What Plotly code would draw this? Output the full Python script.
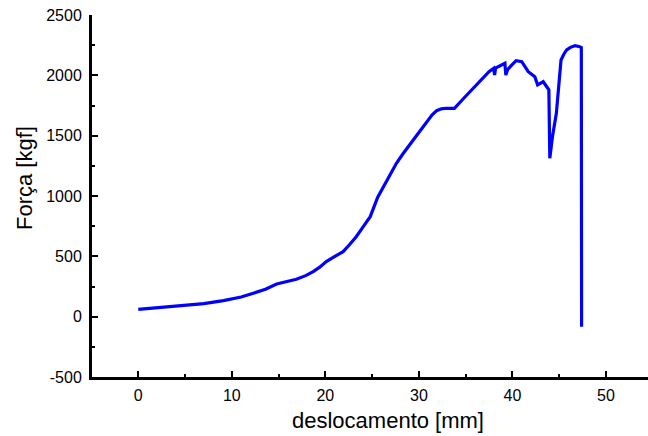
import plotly.graph_objects as go

deslocamento = [0.0, 2.0, 4.45, 7.0, 9.1, 11.0, 12.3, 13.6, 14.8, 15.9, 16.9, 17.9, 18.7,
                19.4, 20.1, 20.8, 21.5, 21.9, 22.6, 23.3, 24.0, 24.8, 25.6, 26.5,
                27.6, 28.3, 29.0, 30.0, 30.8, 31.4, 31.9, 32.4, 32.9, 33.8, 34.8, 35.8, 36.8,
                37.5, 38.0, 38.1, 38.2, 39.1, 39.2, 39.3, 39.5, 40.0, 40.4, 41.0, 41.4, 41.7,
                42.4, 42.7, 43.3, 43.9, 44.0, 44.3, 44.7, 45.0, 45.2, 45.5, 45.8, 46.2,
                46.7, 47.2, 47.37, 47.4]
forca = [60, 72, 89, 108, 133, 163, 194, 228, 271, 292, 310, 340, 373,
         410, 456, 490, 519, 539, 598, 663, 740, 829, 990, 1120,
         1271, 1350, 1423, 1530, 1616, 1670, 1707, 1722, 1727, 1727, 1810, 1892, 1975,
         2030, 2058, 2002, 2060, 2090, 2100, 2002, 2050, 2090, 2121, 2113, 2070, 2030,
         1988, 1920, 1947, 1880, 1312, 1500, 1685, 1920, 2127, 2175, 2210, 2232,
         2245, 2237, 2230, -83]

x_ticks = [0, 10, 20, 30, 40, 50]
y_ticks = [-500, 0, 500, 1000, 1500, 2000, 2500]
y_labels = ["-500", "0", "500", "1000", "1500", "2000", "2500"]

W, H = 648, 436
L, R, T, B = 92, 0, 15, 59

fig = go.Figure()
fig.add_trace(go.Scatter(x=deslocamento, y=forca, mode="lines",
                         line=dict(color="#0000FF", width=3.2), showlegend=False))

font = dict(family="Liberation Sans, Arial, sans-serif", color="black")
fig.update_layout(
    width=W, height=H,
    margin=dict(l=L, r=R, t=T, b=B, autoexpand=False),
    plot_bgcolor="white", paper_bgcolor="white",
    font=font,
    xaxis=dict(range=[-4.95, 54.5], tickvals=x_ticks, ticks="inside", ticklen=6,
               tickwidth=2, tickcolor="black", showline=True, linecolor="black",
               linewidth=3, showgrid=False, zeroline=False,
               tickfont=dict(size=16), ticklabelstandoff=2,
               minor=dict(dtick=5, tick0=0, ticks="inside", ticklen=3, tickwidth=2,
                          tickcolor="black", showgrid=False)),
    yaxis=dict(range=[-500, 2500], tickvals=y_ticks, ticktext=y_labels,
               ticks="inside", ticklen=6,
               tickwidth=2, tickcolor="black", showline=True, linecolor="black",
               linewidth=3, showgrid=False, zeroline=False,
               tickfont=dict(size=16), ticklabelstandoff=4,
               minor=dict(dtick=250, tick0=0, ticks="inside", ticklen=3, tickwidth=2,
                          tickcolor="black", showgrid=False)),
)
fig.add_annotation(text="deslocamento [mm]", xref="paper", yref="paper",
                   x=(388 - L) / (W - L - R), y=-(421 - (H - B)) / (H - T - B),
                   showarrow=False, font=dict(size=22), xanchor="center", yanchor="middle")
fig.add_annotation(text="Força [kgf]", xref="paper", yref="paper",
                   x=-(L - 24) / (W - L - R), y=(H - B - 178) / (H - T - B),
                   showarrow=False, textangle=-90, font=dict(size=22),
                   xanchor="center", yanchor="middle")

fig.write_html("out.html")
